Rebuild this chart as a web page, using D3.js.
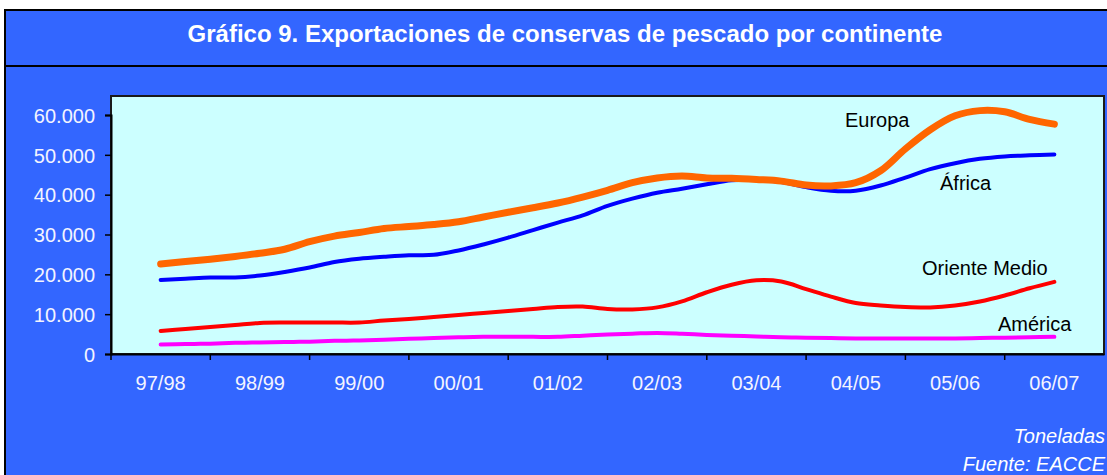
<!DOCTYPE html>
<html>
<head>
<meta charset="utf-8">
<script src="https://cdn.jsdelivr.net/npm/d3@7"></script>
<style>
  html, body { margin: 0; padding: 0; background: #ffffff; }
  svg { display: block; font-family: "Liberation Sans", Arial, sans-serif; }
</style>
</head>
<body>
<svg id="chart" width="1107" height="475"></svg>
<script>
const title = "Gráfico 9. Exportaciones de conservas de pescado por continente";
const categories = ["97/98", "98/99", "99/00", "00/01", "01/02", "02/03", "03/04", "04/05", "05/06", "06/07"];
const yTicks = [0, 10000, 20000, 30000, 40000, 50000, 60000];
const yTickLabels = ["0", "10.000", "20.000", "30.000", "40.000", "50.000", "60.000"];
// quarterly readings (toneladas), 37 points from 97/98 to 06/07
const europa = [22600, 23200, 23800, 24500, 25300, 26300, 28200, 29600, 30500, 31500, 32000, 32500, 33200,
  34400, 35600, 36700, 37900, 39400, 41100, 43000, 44200, 44700, 44200, 44100, 43800, 43400, 42400, 42200,
  43000, 46000, 51500, 56300, 59800, 61100, 60800, 58900, 57700];
const africa = [18600, 18900, 19200, 19200, 19700, 20600, 21700, 23100, 23900, 24400, 24800, 24900, 26000,
  27500, 29200, 31100, 33000, 34800, 37200, 39000, 40500, 41500, 42600, 43600, 43700, 43200, 41900, 41000,
  41000, 42300, 44300, 46400, 47900, 49000, 49600, 49900, 50100];
const orienteMedio = [5800, 6300, 6800, 7300, 7800, 7900, 7900, 7900, 7900, 8400, 8800, 9300, 9800,
  10300, 10800, 11300, 11800, 11900, 11300, 11200, 11700, 13200, 15500, 17400, 18500, 18200, 16300, 14400,
  12800, 12200, 11800, 11700, 12200, 13200, 14700, 16500, 18100];
const america = [2400, 2500, 2600, 2800, 2900, 3000, 3100, 3300, 3400, 3600, 3800, 4000, 4200,
  4300, 4300, 4300, 4300, 4600, 4900, 5100, 5300, 5100, 4800, 4600, 4400, 4200, 4100, 4000,
  3900, 3900, 3900, 3900, 3900, 4000, 4100, 4200, 4300];
const seriesNames = ["Europa", "África", "Oriente Medio", "América"];
const seriesColors = ["#FF6600", "#0000FF", "#FF0000", "#FF00FF"];

const svg = d3.select("#chart");
const W = 1107, H = 475;

// frame
const boxL = 5;
svg.append("rect").attr("x", boxL).attr("y", 10).attr("width", W + 10).attr("height", 56)
  .attr("fill", "#3366FF").attr("stroke", "#000").attr("stroke-width", 2);
svg.append("rect").attr("x", boxL).attr("y", 66).attr("width", W + 10).attr("height", H)
  .attr("fill", "#3366FF").attr("stroke", "#000").attr("stroke-width", 2);

svg.append("text").attr("x", 565).attr("y", 42).attr("text-anchor", "middle")
  .attr("fill", "#fff").attr("font-weight", "bold").attr("font-size", 24).text(title);

const m = {l: 111, r: 1104, t: 96, b: 354};
svg.append("rect").attr("x", m.l).attr("y", m.t).attr("width", m.r - m.l).attr("height", m.b - m.t)
  .attr("fill", "#CCFFFF").attr("stroke", "#1a1a1a").attr("stroke-width", 2);

const x = d3.scaleBand().domain(categories).range([m.l, m.r]).padding(0);
const xq = d3.scaleLinear().domain([0, categories.length - 1])
  .range([x(categories[0]) + x.bandwidth() / 2, x(categories[categories.length - 1]) + x.bandwidth() / 2]);
const y = d3.scaleLinear().domain([0, 60000]).range([m.b, m.t + 19]);

// y axis
const yAxis = d3.axisLeft(y).tickValues(yTicks).tickSize(6).tickPadding(10)
  .tickFormat((d, i) => yTickLabels[i]);
const gy = svg.append("g").attr("transform", `translate(${m.l},0)`).call(yAxis);
gy.select(".domain").attr("stroke", "#000").attr("stroke-width", 2);
gy.selectAll(".tick line").attr("stroke", "#000").attr("stroke-width", 1.5);
gy.selectAll(".tick text").attr("fill", "#F4F4FF").attr("font-size", 20)
  .attr("font-family", "Liberation Sans, Arial, sans-serif").attr("dy", "0.36em");

// x axis: labels centered in bands, ticks at band boundaries
const xAxis = d3.axisBottom(x).tickSize(0).tickPadding(22);
const gx = svg.append("g").attr("transform", `translate(0,${m.b})`).call(xAxis);
gx.select(".domain").attr("stroke", "#000").attr("stroke-width", 2);
gx.selectAll(".tick text").attr("fill", "#F4F4FF").attr("font-size", 20)
  .attr("font-family", "Liberation Sans, Arial, sans-serif");
gx.selectAll(".bound").data(categories).enter().append("line")
  .attr("x1", d => x(d)).attr("x2", d => x(d)).attr("y1", 0).attr("y2", 6)
  .attr("stroke", "#000").attr("stroke-width", 1.5);

// lines
const allSeries = [europa, africa, orienteMedio, america];
const widths = [7, 4, 4, 4];
const line = d3.line().x((d, i) => xq(i / 4)).y(d => y(d)).curve(d3.curveCatmullRom.alpha(0.5));
const order = [3, 2, 1, 0];
order.forEach(k => {
  svg.append("path").datum(allSeries[k]).attr("d", line).attr("fill", "none")
    .attr("stroke", seriesColors[k]).attr("stroke-width", widths[k])
    .attr("stroke-linecap", "round").attr("stroke-linejoin", "round");
});

// series labels
const labelPos = [[845, 127], [940, 190], [922, 275], [998, 331]];
seriesNames.forEach((n, k) => {
  svg.append("text").attr("x", labelPos[k][0]).attr("y", labelPos[k][1])
    .attr("font-size", 20).attr("fill", "#000").text(n);
});

// notes
svg.append("text").attr("x", 1105).attr("y", 443).attr("font-size", 20).attr("font-style", "italic")
  .attr("text-anchor", "end").attr("fill", "#fff").text("Toneladas");
svg.append("text").attr("x", 1105).attr("y", 471).attr("font-size", 20).attr("font-style", "italic")
  .attr("text-anchor", "end").attr("fill", "#fff").text("Fuente: EACCE");
</script>
</body>
</html>
